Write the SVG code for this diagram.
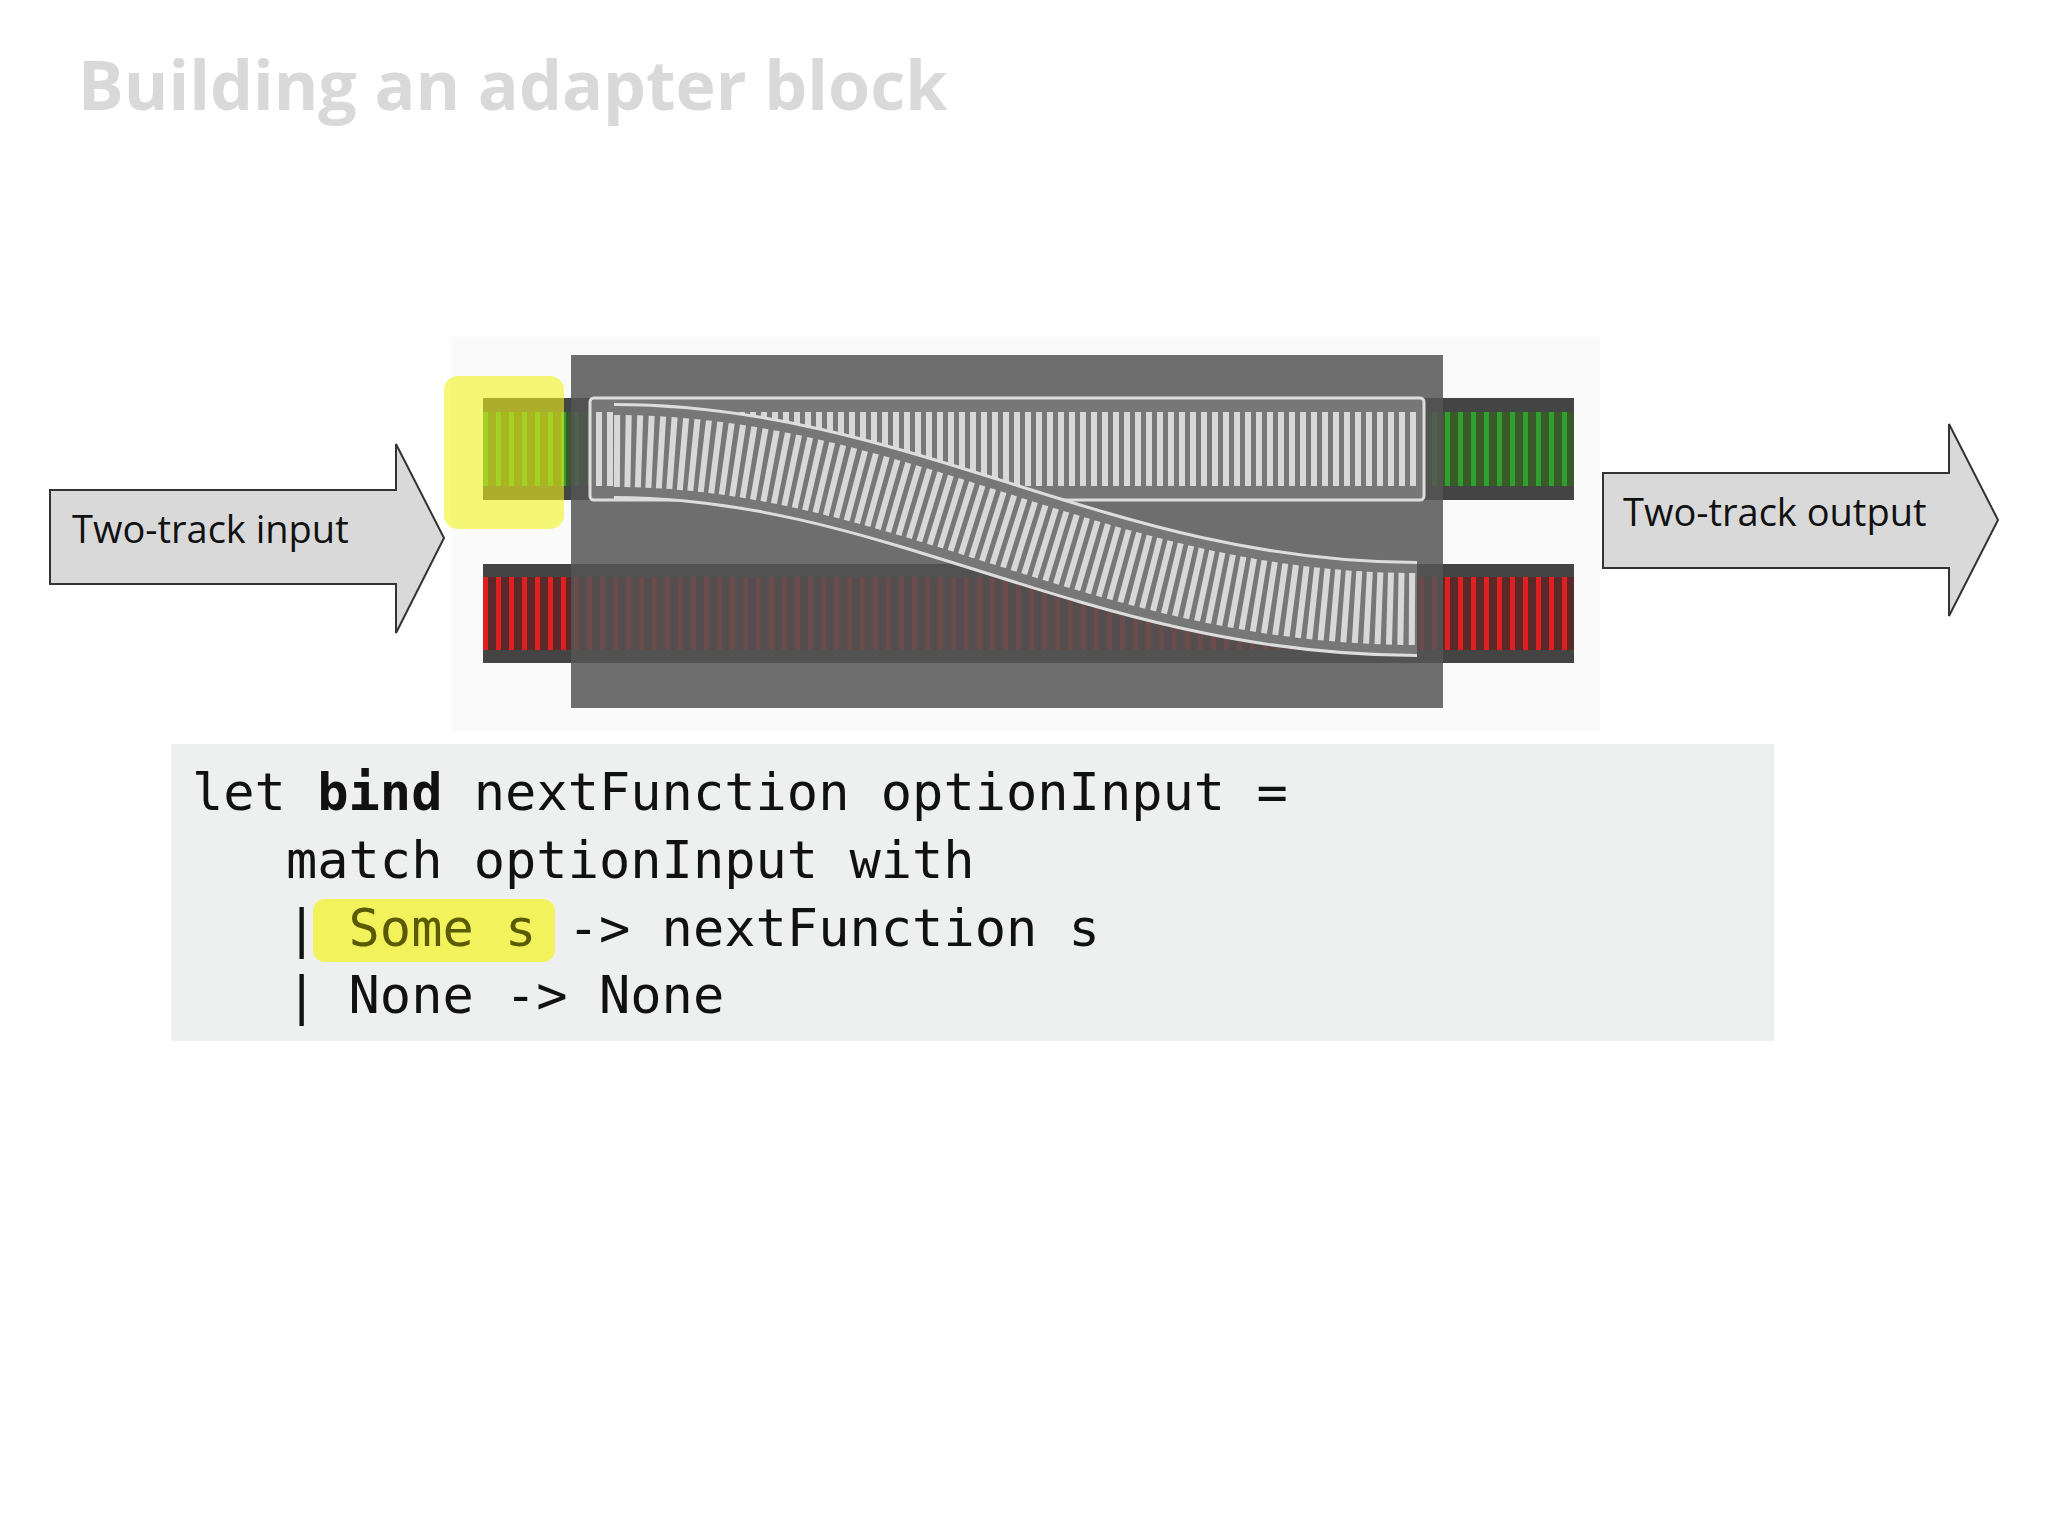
<svg xmlns="http://www.w3.org/2000/svg" width="2048" height="1536" viewBox="0 0 2048 1536">
<style>
.lbl{font-family:"Open Sans","Liberation Sans",sans-serif;font-size:38px;fill:#111}
.code{font-family:"DejaVu Sans Mono","Liberation Mono",monospace;font-size:52px;fill:#111}
.arrow{fill:#d9d9d9;stroke:#333;stroke-width:2}
</style>
<defs>
<pattern id="tg" width="13" height="20" patternUnits="userSpaceOnUse"><rect width="13" height="20" fill="#3b5a2a"/><rect x="2" width="5" height="20" fill="#2fa02f"/></pattern>
<pattern id="tr" width="13" height="20" patternUnits="userSpaceOnUse"><rect width="13" height="20" fill="#5a2a2a"/><rect x="2" width="5" height="20" fill="#e02020"/></pattern>
<pattern id="tw" width="11" height="20" patternUnits="userSpaceOnUse"><rect width="11" height="20" fill="#777"/><rect x="2" width="6" height="20" fill="#d8d8d8"/></pattern>
</defs>
<rect width="2048" height="1536" fill="#fff"/>
<text x="78" y="110" font-family="Open Sans,Liberation Sans,sans-serif" font-size="68" font-weight="bold" fill="#d9d9d9">Building an adapter block</text>
<g id="tracks">
<rect x="451" y="337" width="1149" height="394" fill="#fafafa"/>
<rect x="483" y="398" width="1091" height="102" fill="#444"/>
<rect x="483" y="412" width="1091" height="74" fill="url(#tg)"/>
<rect x="483" y="564" width="1091" height="99" fill="#444"/>
<rect x="483" y="577" width="1091" height="73" fill="url(#tr)"/>
<rect x="571" y="355" width="872" height="353" fill="#555" opacity="0.85"/>
<rect x="590" y="398" width="834" height="102" rx="4" fill="#777" stroke="#ddd" stroke-width="3"/>
<rect x="596" y="412" width="822" height="74" fill="url(#tw)"/>
<path d="M614,451 C900,451 1100,609 1417,609" fill="none" stroke="#ddd" stroke-width="96"/>
<path d="M614,451 C900,451 1100,609 1417,609" fill="none" stroke="#777" stroke-width="90"/>
<path d="M614,451 C900,451 1100,609 1417,609" fill="none" stroke="#d8d8d8" stroke-width="72" stroke-dasharray="6 5"/>
<rect x="444" y="376" width="120" height="153" rx="14" fill="#f4f41e" opacity="0.6"/>
</g>
<g id="input"><path class="arrow" d="M50,490 H396 V444 L444,538 L396,633 V584 H50 Z"/><text class="lbl" x="72" y="543">Two-track input</text></g>
<g id="output"><path class="arrow" d="M1603,473 H1949 V424 L1998,520 L1949,616 V568 H1603 Z"/><text class="lbl" x="1623" y="526">Two-track output</text></g>
<g id="connectors"/>
<g id="code">
<rect x="171" y="744" width="1603" height="297" fill="#eef0ef"/>
<rect x="313" y="899" width="242" height="63" rx="12" fill="#f4f41e" opacity="0.7"/>
<text class="code" x="192" y="810" xml:space="preserve">let <tspan font-weight="bold">bind</tspan> nextFunction optionInput =</text>
<text class="code" x="192" y="878" xml:space="preserve">   match optionInput with</text>
<text class="code" x="192" y="946" xml:space="preserve">   | <tspan fill="#5a5a00">Some s</tspan> -&gt; nextFunction s</text>
<text class="code" x="192" y="1013" xml:space="preserve">   | None -&gt; None</text>
</g>
</svg>
